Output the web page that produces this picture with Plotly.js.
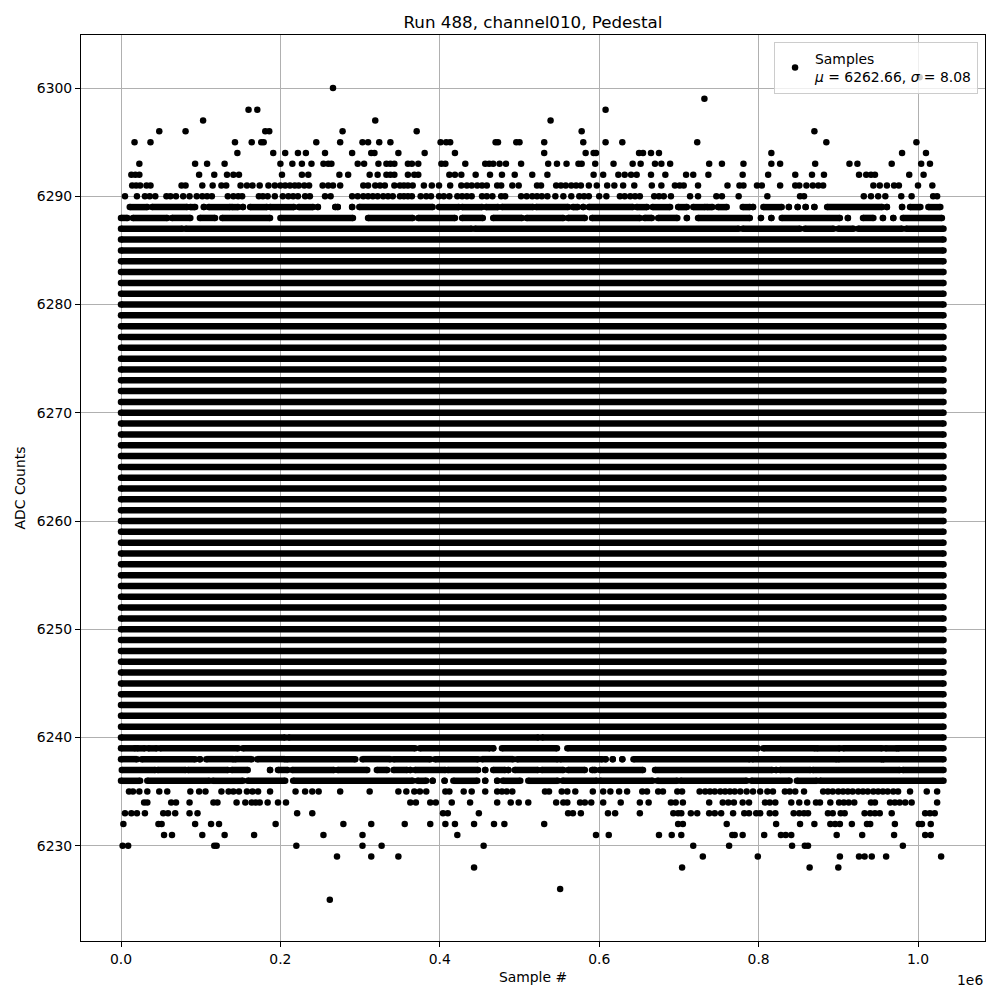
<!DOCTYPE html>
<html>
<head>
<meta charset="utf-8">
<script src="https://cdn.plot.ly/plotly-3.0.1.min.js"></script>
<style>html,body{margin:0;padding:0;background:#fff;}#chart{width:1000px;height:1000px;}</style>
</head>
<body>
<div id="chart"></div>
<script>
// ---- Data (sample index in thousands, ADC counts) ----
const lastSampleK = 1032;

// ADC levels that are filled across the whole run
const denseLevels = [6241,6242,6243,6244,6245,6246,6247,6248,6249,6250,6251,6252,6253,6254,6255,6256,6257,6258,6259,6260,
  6261,6262,6263,6264,6265,6266,6267,6268,6269,6270,6271,6272,6273,6274,6275,6276,6277,6278,6279,6280,
  6281,6282,6283,6284,6285,6286];

// ADC levels that are mostly filled, given as runs [start, end] of samples (thousands)
const runLevels = [6289, 6288, 6287, 6240, 6239, 6238, 6237, 6236];
const runRangesK = [
  [11,33, 39,83, 87,93, 104,104, 110,137, 139,147, 153,153, 162,183, 187,217, 223,241, 247,247, 269,269, 272,272, 290,290,
   299,391, 399,424, 428,453, 458,473, 478,517, 521,561, 567,573, 580,580, 587,642, 647,660, 667,689, 699,710, 718,733,
   735,742, 749,760, 780,789, 793,793, 806,829, 838,838, 849,849, 859,859, 870,870, 886,955, 961,961, 980,980, 990,1003, 1013,1028],
  [0,8, 15,58, 64,87, 99,118, 127,187, 200,291, 310,366, 373,419, 428,454, 467,503, 509,555, 561,582, 591,651, 657,666,
   674,698, 710,710, 724,789, 803,803, 816,816, 829,902, 912,912, 931,944, 956,956, 969,969, 981,1030],
  [0,77, 81,440, 444,775, 780,852, 858,894, 900,919, 925,980, 985,1032],
  [0,206, 210,524, 528,1032],
  [0,18, 20,30, 34,45, 49,147, 153,369, 375,463, 467,467, 478,547, 560,799, 806,871, 873,902, 906,955, 959,974, 975,1032],
  [0,20, 26,93, 99,99, 107,141, 143,164, 171,206, 208,294, 303,338, 342,388, 394,448, 453,492, 497,548, 551,604, 608,608,
   617,617, 629,629, 643,789, 792,898, 900,955, 956,1032],
  [1,43, 46,81, 84,134, 139,159, 187,187, 197,209, 215,267, 272,309, 321,334, 342,359, 363,363, 369,407, 410,448, 457,457,
   467,482, 486,486, 494,523, 528,555, 561,582, 591,595, 601,655, 670,817, 822,822, 827,865, 868,977, 981,1032],
  [0,24, 33,111, 115,153, 159,206, 216,366, 372,383, 391,391, 406,406, 417,447, 457,457, 472,472, 479,501, 511,548, 554,597,
   601,667, 673,698, 702,785, 791,839, 848,873, 877,1032]
];

// ADC levels with isolated samples (sample index, thousands)
const sparseLevels = [6301, 6300, 6299, 6298, 6297, 6296, 6295, 6294, 6293, 6292, 6291, 6290,
  6235, 6234, 6233, 6232, 6231, 6230, 6229, 6228, 6226, 6225];
const sparseSamplesK = [
  [1002],
  [266],
  [732],
  [160,171,608],
  [103,319,539],
  [48,81,181,186,278,371,578,870],
  [17,37,143,164,176,179,245,275,303,310,324,338,401,408,413,470,473,496,500,531,580,608,629,723,885,998],
  [146,191,206,222,232,256,290,314,318,348,381,419,531,583,593,596,650,655,665,675,816,980,1010],
  [23,93,108,130,200,215,227,239,254,260,264,297,305,323,333,338,343,360,365,373,402,407,432,457,462,467,475,483,502,536,
   547,559,574,578,595,618,642,652,670,678,689,738,754,781,816,827,871,914,924,967,1004,1015],
  [13,18,23,98,117,133,141,148,202,227,235,274,285,312,322,333,338,343,360,368,373,412,419,427,445,463,478,494,516,535,
   593,605,624,632,640,647,665,683,709,718,737,780,812,846,867,882,926,935,941,946,989,1007],
  [14,19,24,32,37,76,81,102,115,126,132,150,158,165,174,185,193,200,206,212,218,223,230,236,253,260,266,275,304,310,319,
   325,331,343,350,355,360,366,380,390,399,413,427,434,440,447,453,459,472,477,491,499,522,527,546,552,558,565,571,577,
   587,597,610,619,630,644,666,678,695,701,706,724,761,776,781,798,804,827,846,851,860,868,875,881,944,952,961,970,976,1000,1018],
  [5,20,30,36,43,57,62,69,78,86,95,102,108,114,134,141,147,152,173,178,184,193,203,210,216,222,231,237,256,263,290,297,
   304,310,316,322,329,335,341,350,355,360,365,376,383,389,399,405,412,422,428,434,440,453,459,466,477,482,502,509,516,
   522,528,535,545,555,565,575,581,587,600,609,626,632,639,645,651,669,675,681,690,714,724,747,754,775,811,852,857,932,
   941,950,959,979,992,1019,1024],
  [10,15,23,33,48,58,87,98,106,126,135,141,148,158,165,172,187,219,231,240,248,275,312,348,358,368,375,383,407,412,430,440,
   457,472,478,484,491,532,537,553,560,570,592,605,614,625,635,654,660,674,680,698,704,726,733,739,745,752,758,764,770,777,
   785,793,802,811,818,833,839,846,857,881,887,893,900,906,912,918,925,931,937,944,950,956,962,969,975,990,1011,1024],
  [29,33,63,69,86,116,121,145,156,164,169,174,184,197,207,363,370,388,395,415,438,472,489,499,511,546,555,560,576,582,590,
   605,627,651,662,690,696,705,738,755,762,769,780,788,808,814,821,841,851,861,872,877,890,901,907,913,920,941,946,965,971,
   977,984,992,1024],
  [5,13,20,30,53,59,68,86,96,221,240,404,410,449,561,567,577,611,620,651,693,699,703,715,723,738,745,753,768,782,788,797,
   802,814,821,844,851,857,862,887,893,903,908,933,940,946,952,967,1009,1015,1021],
  [3,47,51,93,113,123,194,279,314,356,388,407,419,443,468,481,531,699,705,760,822,852,870,890,896,902,917,936,940,971,1001,1005,1016],
  [54,64,102,130,167,254,303,422,596,612,675,691,703,767,770,780,807,828,834,841,898,930,970,1009,1016],
  [2,9,117,120,220,303,327,455,718,763,842,858,862,981],
  [271,314,348,730,799,902,926,933,942,960,1029],
  [443,704,864,900],
  [551],
  [262]
];

const meanADC = 6262.66;
const sigmaADC = 8.08;

const xTickVals = [0, 200000, 400000, 600000, 800000, 1000000];
const xTickText = ['0.0', '0.2', '0.4', '0.6', '0.8', '1.0'];
const yTickVals = [6230, 6240, 6250, 6260, 6270, 6280, 6290, 6300];

// ---- Build traces ----
const K = 1000;
const runX = [], runY = [];
denseLevels.forEach(lv => { runX.push(0, lastSampleK * K, null); runY.push(lv, lv, null); });
runLevels.forEach((lv, i) => {
  const r = runRangesK[i];
  for (let j = 0; j < r.length; j += 2) {
    runX.push(r[j] * K, r[j + 1] * K, null);
    runY.push(lv, lv, null);
  }
});
const ptX = [], ptY = [];
sparseLevels.forEach((lv, i) => {
  sparseSamplesK[i].forEach(s => { ptX.push(s * K); ptY.push(lv); });
});

const MS = 6.5;
const traces = [
  {
    x: runX, y: runY, type: 'scatter', mode: 'lines+markers',
    line: {color: '#000000', width: MS},
    marker: {color: '#000000', size: MS},
    connectgaps: false, showlegend: false, hoverinfo: 'skip'
  },
  {
    x: ptX, y: ptY, type: 'scatter', mode: 'markers',
    name: 'Samples<br><i>μ</i> = ' + meanADC.toFixed(2) + ', <i>σ</i> = ' + sigmaADC.toFixed(2),
    marker: {color: '#000000', size: MS},
    showlegend: true
  }
];

const FONT = 'DejaVu Sans, sans-serif';
const axisCommon = {
  showline: true, linecolor: '#000000', linewidth: 1, mirror: true,
  ticks: 'outside', ticklen: 5, tickwidth: 1, tickcolor: '#000000',
  showgrid: true, gridcolor: '#b0b0b0', gridwidth: 1,
  zeroline: false,
  tickfont: {family: FONT, size: 13.9, color: '#000000'}
};

const layout = {
  width: 1000, height: 1000,
  paper_bgcolor: '#ffffff', plot_bgcolor: '#ffffff',
  margin: {l: 81, r: 15, t: 35, b: 59},
  font: {family: FONT, color: '#000000'},
  title: {text: 'Run 488, channel010, Pedestal', font: {family: FONT, size: 16.7, color: '#000000'},
          x: 0.533, xanchor: 'center', xref: 'container', y: 0.978, yanchor: 'middle', yref: 'container'},
  xaxis: Object.assign({}, axisCommon, {
    range: [-50190, 1084070], tickvals: xTickVals, ticktext: xTickText,
    title: {text: 'Sample #', font: {family: FONT, size: 13.9, color: '#000000'}, standoff: 6}
  }),
  yaxis: Object.assign({}, axisCommon, {
    range: [6221.2, 6304.9], tickvals: yTickVals, ticktext: yTickVals.map(String),
    title: {text: 'ADC Counts', font: {family: FONT, size: 13.9, color: '#000000'}, standoff: 7}
  }),
  showlegend: true,
  legend: {
    x: 0.9923, xanchor: 'right', y: 0.9923, yanchor: 'top',
    bgcolor: 'rgba(255,255,255,0.8)', bordercolor: '#cccccc', borderwidth: 1,
    font: {family: FONT, size: 13.9, color: '#000000'}
  },
  annotations: [{
    text: '1e6', xref: 'paper', yref: 'paper', x: 1, y: -0.0375, xanchor: 'right', yanchor: 'middle', yshift: -5,
    showarrow: false, font: {family: FONT, size: 13.9, color: '#000000'}
  }]
};

Plotly.newPlot('chart', traces, layout, {displayModeBar: false, staticPlot: true});
</script>
</body>
</html>
